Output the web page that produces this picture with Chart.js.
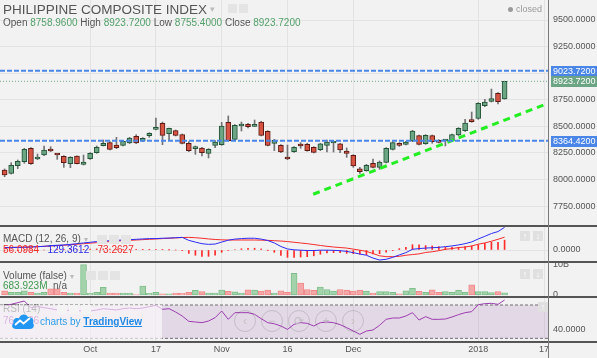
<!DOCTYPE html>
<html><head><meta charset="utf-8">
<script src="https://cdn.jsdelivr.net/npm/chart.js@4.4.1/dist/chart.umd.min.js"></script>
<style>
html,body{margin:0;padding:0;background:#f2f2f2;}
#wrap{position:relative;width:597px;height:358px;overflow:hidden;background:#f2f2f2;font-family:'Liberation Sans',Arial,sans-serif;color:#555;}
canvas{position:absolute;left:0;}
.t{position:absolute;white-space:nowrap;line-height:1;z-index:5;}
.sep{position:absolute;left:0;width:597px;height:2px;background:#555;z-index:6;}
.ic{position:absolute;width:10px;height:9px;background:#e4e4e4;z-index:5;}
.ar{position:absolute;width:10px;height:10px;background:#e0e0e0;color:#fff;font-size:9px;line-height:10px;text-align:center;z-index:5;}
.nav{position:absolute;width:20px;height:20px;border:1px solid rgba(0,0,0,0.13);border-radius:50%;color:#c2c2c2;font-size:12px;line-height:20px;text-align:center;z-index:8;}
</style></head>
<body><div id="wrap">
<canvas id="cMain" width="597" height="225" style="top:0"></canvas>
<canvas id="cMacd" width="597" height="37" style="top:225px"></canvas>
<canvas id="cVol" width="597" height="35" style="top:262px"></canvas>
<canvas id="cRsi" width="597" height="61" style="top:297px"></canvas>

<div class="sep" style="top:225px"></div>
<div class="sep" style="top:261px"></div>
<div class="sep" style="top:296px"></div>
<div class="sep" style="top:341px"></div>
<div style="position:absolute;left:548px;top:0;width:1px;height:358px;background:#7a7a7a;z-index:6"></div>

<div class="t" style="left:3px;top:3.4px;font-size:13.5px;">PHILIPPINE COMPOSITE INDEX</div>
<div class="t" style="left:210px;top:5px;font-size:9px;color:#bbb;">▾</div>
<div class="ic" style="left:228px;top:4px;width:9px;"></div>
<div class="ic" style="left:239px;top:4px;width:9px;"></div>
<div class="t" style="left:3px;top:18.4px;font-size:10px;">Open <span style="color:#53a06b">8758.9600</span> High <span style="color:#53a06b">8923.7200</span> Low <span style="color:#53a06b">8755.4000</span> Close <span style="color:#53a06b">8923.7200</span></div>
<div style="position:absolute;left:508px;top:7px;width:5px;height:5px;border-radius:50%;background:#9a9a9a;z-index:5"></div>
<div class="t" style="left:516px;top:5.3px;font-size:9px;color:#9a9a9a;">closed</div>

<div class="t" style="left:3px;top:234.1px;font-size:10px;">MACD (12, 26, 9) <span style="color:#bbb;font-size:8px">▾</span></div>
<div class="ic" style="left:97px;top:235px;"></div><div class="ic" style="left:109px;top:235px;"></div><div class="ic" style="left:121px;top:235px;"></div>
<div class="t" style="left:3px;top:244.6px;font-size:10px;"><span style="color:#f02b2b">56.0984</span>&nbsp;&nbsp; <span style="color:#2a2ae8">129.3612</span>&nbsp;&nbsp; <span style="color:#f02b2b">73.2627</span></div>
<div class="ar" style="left:520px;top:231px;">↑</div><div class="ar" style="left:533px;top:231px;">↓</div>

<div class="t" style="left:3px;top:270.8px;font-size:10px;">Volume (false) <span style="color:#bbb;font-size:8px">▾</span></div>
<div class="ic" style="left:86px;top:271px;"></div><div class="ic" style="left:98px;top:271px;"></div><div class="ic" style="left:110px;top:271px;"></div>
<div class="t" style="left:3px;top:281.3px;font-size:10px;"><span style="color:#40974f">683.923M</span>&nbsp; n/a</div>
<div class="ar" style="left:520px;top:269px;">↑</div><div class="ar" style="left:533px;top:269px;">↓</div>

<div class="t" style="left:3px;top:304.4px;font-size:10px;">RSI (14)</div>
<div class="ic" style="left:57px;top:305px;"></div><div class="ic" style="left:69px;top:305px;"></div><div class="ic" style="left:81px;top:305px;"></div>
<div class="t" style="left:3px;top:316.1px;font-size:10px;color:#9c3cb0;">76.4136</div>
<div class="ar" style="left:538px;top:302px;">↑</div>

<div style="position:absolute;left:0;top:305px;width:162px;height:34px;background:rgba(255,255,255,0.6);z-index:7"></div>
<svg style="position:absolute;left:11px;top:312px;z-index:8" width="24" height="18" viewBox="0 0 24 18">
<path d="M5 17 C1 17 0 13 2.5 11 C1.5 7 5.5 5 8 6.5 C9 2 15 1 17 5 C21 4.5 23.5 8 22 11 C24 13.5 22.5 17 19 17 Z" fill="#2196f3"/>
<path d="M4 13 L9 8.5 L12.5 11.5 L19 6" stroke="#fff" stroke-width="1.8" fill="none"/>
</svg>
<div class="t" style="left:40px;top:317px;font-size:10px;color:#2f9de8;z-index:8;">charts by <span style="color:#1e88e5;font-weight:bold;text-decoration:underline;">TradingView</span></div>

<div class="nav" style="left:234px;top:310px;">‹</div>
<div class="nav" style="left:261px;top:310px;">−</div>
<div class="nav" style="left:288px;top:310px;">⟳</div>
<div class="nav" style="left:315px;top:310px;">+</div>
<div class="nav" style="left:342px;top:310px;">›</div>
</div>
<script>
// ---- data ----
const open  = [8090,8059,8131,8168,8294,8193,8231,8287,8240,8219,8150,8222,8143,8197,8253,8319,8347,8325,8322,8344,8406,8363,8413,8472,8529,8432,8460,8422,8341,8291,8297,8247,8322,8328,8538,8378,8504,8519,8500,8541,8453,8341,8322,8206,8262,8325,8331,8303,8281,8322,8344,8335,8269,8228,8100,8084,8153,8115,8162,8284,8341,8331,8363,8413,8338,8413,8369,8363,8366,8419,8460,8560,8576,8695,8735,8811,8758.96];
const high  = [8100,8159,8184,8294,8300,8240,8316,8309,8242,8225,8215,8224,8231,8253,8316,8372,8356,8397,8366,8397,8422,8394,8441,8579,8541,8485,8466,8428,8356,8316,8303,8291,8366,8538,8598,8516,8541,8529,8560,8548,8460,8378,8328,8325,8309,8347,8341,8309,8341,8372,8355,8341,8297,8234,8115,8143,8193,8175,8300,8356,8347,8360,8463,8419,8422,8419,8375,8370,8428,8488,8566,8635,8723,8754,8851,8817,8923.72];
const low   = [8027,8052,8103,8153,8143,8187,8225,8262,8190,8115,8112,8147,8137,8190,8247,8316,8278,8291,8316,8338,8338,8356,8397,8466,8328,8372,8410,8335,8262,8237,8222,8203,8300,8322,8360,8372,8457,8485,8497,8410,8316,8272,8253,8187,8256,8294,8266,8250,8272,8259,8259,8253,8209,8115,8059,8078,8109,8096,8156,8278,8312,8325,8356,8325,8331,8341,8344,8316,8360,8413,8453,8538,8566,8685,8729,8710,8755.40];
const close = [8043,8134,8172,8284,8150,8212,8278,8269,8231,8159,8209,8150,8165,8247,8303,8341,8284,8300,8360,8391,8344,8388,8435,8491,8416,8482,8416,8341,8272,8300,8253,8284,8353,8504,8366,8510,8510,8497,8513,8416,8322,8369,8259,8193,8303,8316,8272,8256,8335,8353,8353,8278,8247,8128,8074,8134,8115,8165,8294,8347,8322,8353,8457,8331,8416,8356,8350,8369,8422,8482,8532,8544,8717,8729,8761,8732,8923.72];
const volumeB = [1.4,0.9,0.9,1.4,0.9,0.65,0.9,2.0,2.0,0.9,0.65,0.65,9.9,0.55,0.9,2.5,0.65,0.65,0.65,0.65,0.1,2.9,0.55,0.9,0.35,0.35,0.65,0.55,0.9,1.5,1.1,0.65,0.65,1.6,1.2,1.0,0.65,1.7,1.6,1.3,1.6,0.65,1.4,0.9,7.1,3.9,1.8,1.5,2.6,1.8,1.3,1.8,1.6,1.3,1.6,1.3,0.65,1.1,1.1,0.9,0.35,1.4,2.2,1.2,0.9,1.7,0.9,1.1,0.9,1.5,0.9,3.3,1.1,1.1,0.75,1.1,0.684];
const macd   = [13,13,15,15,17,19,21,25,27,29,32,36,40,44,48,51,53,55,57,59,61,63,65,65,67,68,70,72,55,45,36,32,34,45,56,62,65,67,67,62,54,40,20,6,1,-1,-3,-3,-1,-1,-2,-4,-8,-15,-23,-30,-46,-57,-53,-42,-28,-15,4,8,11,13,15,19,23,29,36,46,63,78,94,105,129.3612];
const signal = [14,15,16,17,18,19,21,23,25,27,30,33,36,39,42,45,48,51,53,55,57,59,61,63,65,67,69,71,72,70,67,63,60,58,57,57,57,57,57,56,55,53,51,48,44,40,36,31,26,21,17,14,11,5,-1,-8,-20,-33,-38,-38,-36,-30,-26,-22,-14,-10,-4,4,8,14,17,23,33,40,50,61,73.2627];
const hist   = [-1,-2,-1,-2,-1,0,0,2,2,2,2,3,4,5,6,6,5,4,4,4,4,4,4,2,2,1,0,-2,-19,-30,-36,-36,-30,-13,-3,3,7,10,10,6,-1,-13,-31,-42,-43,-40,-38,-33,-24,-17,-15,-15,-19,-21,-24,-27,-22,-21,-13,-4,8,15,30,30,25,23,19,15,15,15,19,23,30,38,44,44,56.0984];
const rsi    = [69.6,70.8,72.8,74.8,66.8,68,66.8,65.6,64,62.8,64,63.2,62.8,62.8,64,65.6,64.8,64,65.6,66.4,65.6,66.4,68,69.6,64.8,65.6,61.6,56.8,50.4,49.6,48.8,50.8,54.8,62.8,52.8,60.8,60.8,60.8,58.8,53.6,48.8,47.5,44.8,40.8,46.8,48.8,48,44.8,48.8,49.6,48.8,46.4,42.8,38.8,34.8,38.8,40,45.6,52.8,54.4,54.4,56.8,60.8,52,56,52.8,52.8,53.2,55.6,58.4,60.8,62,70.4,71.6,72,70.8,76];
const levels = [9023.72, 8364.42];
const lastPrice = 8923.72;
const trendX = [46.9, 81.9];
const trendY = [7862, 8700];
const rsiBands = [70, 30];
const tickIdx = [13,23,33,43,53,72,82];
const tickLabels = ['Oct','17','Nov','16','Dec','2018','17'];
const priceTicks = [7750,8000,8250,8500,8750,9000,9250,9500];

// ---- styling ----
const FF = "'Liberation Sans', Arial, sans-serif";
Chart.defaults.font.family = FF;
const GRID = '#e3e3e3';
const UP='#6ba583', DN='#d75442', UPB='#225437', DNB='#5b1a13';
const xMin=-0.7, xMax=82.6;
const idx = open.map((_,i)=>i);
const isUp = i => close[i] >= open[i];

function xScale(show){
  return {type:'linear',min:xMin,max:xMax,offset:false,
    afterBuildTicks:s=>{s.ticks=tickIdx.map(v=>({value:v}));},
    ticks:{display:show,autoSkip:false,maxRotation:0,minRotation:0,padding:2,color:'#555',font:{size:9},callback:(v,i)=>tickLabels[i]},
    grid:{color:GRID,drawTicks:false,offset:false},border:{display:false},
    afterFit:s=>{s.height=show?16:0;s.paddingLeft=0;s.paddingRight=0;}};
}
function yScale(min,max,ticks,fmt,gridOn){
  return {position:'right',min:min,max:max,
    afterBuildTicks:s=>{s.ticks=ticks.map(v=>({value:v}));},
    ticks:{color:'#555',font:{size:9},padding:5,callback:fmt},
    grid:{display:gridOn,color:GRID,drawTicks:false},border:{display:false},
    afterFit:s=>{s.width=49;s.paddingTop=0;s.paddingBottom=0;}};
}
const base = {responsive:false,animation:false,devicePixelRatio:1,layout:{padding:0},
  plugins:{legend:{display:false},tooltip:{enabled:false}}};
const hline = (y,color,w,dash,order)=>({type:'line',data:[{x:xMin,y:y},{x:xMax,y:y}],borderColor:color,borderWidth:w,borderDash:dash,pointRadius:0,order:order});

const tags=[{v:levels[0],c:'#4a86e8'},{v:lastPrice,c:'#6ba583'},{v:levels[1],c:'#4a86e8'}];
const tagPlugin={id:'tags',afterDraw(c){
  const ctx=c.ctx,y=c.scales.y,r=c.chartArea.right;
  ctx.save();
  tags.forEach(t=>{const py=y.getPixelForValue(t.v);
    ctx.fillStyle=t.c;ctx.fillRect(r+3,Math.round(py)-5,46,11);
    ctx.fillStyle='#fff';ctx.font='9px '+FF;ctx.textBaseline='middle';ctx.textAlign='left';
    ctx.fillText(t.v.toFixed(4),r+5,Math.round(py)+0.5);});
  ctx.restore();}};

new Chart(document.getElementById('cMain'),{type:'bar',
  data:{datasets:[
    hline(levels[0],'#4a86e8',2,[5,2],0),
    hline(levels[1],'#4a86e8',2,[5,2],0),
    hline(lastPrice,'#6ba583',1,[1,2],0),
    {type:'line',data:trendX.map((x,i)=>({x:x,y:trendY[i]})),borderColor:'#22ee22',borderWidth:3,borderDash:[7,5],pointRadius:0,order:0},
    {type:'bar',data:idx.map(i=>({x:i,y:[Math.min(open[i],close[i]),Math.max(open[i],close[i])]})),
      backgroundColor:idx.map(i=>isUp(i)?UP:DN),borderColor:idx.map(i=>isUp(i)?UPB:DNB),borderWidth:1,borderSkipped:false,
      barThickness:5,minBarLength:2,grouped:false,order:1},
    {type:'bar',data:idx.map(i=>({x:i,y:[low[i],high[i]]})),backgroundColor:'#737375',barThickness:1,grouped:false,order:2}
  ]},
  options:Object.assign({},base,{scales:{x:xScale(false),y:yScale(7573,9688,priceTicks,v=>v.toFixed(4),true)}}),
  plugins:[tagPlugin]});

new Chart(document.getElementById('cMacd'),{type:'bar',
  data:{datasets:[
    {type:'line',data:idx.map(i=>({x:i,y:macd[i]})),borderColor:'#2b2bf5',borderWidth:1,pointRadius:0,order:0},
    {type:'line',data:idx.map(i=>({x:i,y:signal[i]})),borderColor:'#f52b2b',borderWidth:1,pointRadius:0,order:1},
    {type:'bar',data:idx.map(i=>({x:i,y:hist[i]})),backgroundColor:'#ff2a2a',barThickness:1,grouped:false,order:2}
  ]},
  options:Object.assign({},base,{scales:{x:xScale(false),y:yScale(-68.4,142.5,[0],v=>v.toFixed(4),true)}})});

new Chart(document.getElementById('cVol'),{type:'bar',
  data:{datasets:[
    {type:'bar',data:idx.map(i=>({x:i,y:volumeB[i]})),backgroundColor:idx.map(i=>isUp(i)?'#a3d3ab':'#f5a7a7'),
      borderColor:idx.map(i=>isUp(i)?'#7fbf8c':'#f08a8a'),borderWidth:1,borderSkipped:false,barThickness:6,grouped:false}
  ]},
  options:Object.assign({},base,{scales:{x:xScale(false),y:yScale(-0.65,10.75,[0,10],v=>v===0?'0':v+'B',false)}})});

new Chart(document.getElementById('cRsi'),{type:'bar',
  data:{datasets:[
    {type:'line',data:[{x:xMin,y:rsiBands[0]},{x:xMax,y:rsiBands[0]}],borderColor:'#6f6f6f',borderWidth:1,borderDash:[3,2],pointRadius:0,fill:'+1',backgroundColor:'rgba(150,80,170,0.16)',order:1},
    {type:'line',data:[{x:xMin,y:rsiBands[1]},{x:xMax,y:rsiBands[1]}],borderColor:'#6f6f6f',borderWidth:1,borderDash:[3,2],pointRadius:0,fill:false,order:1},
    {type:'line',data:idx.map(i=>({x:i,y:rsi[i]})),borderColor:'#9c3cb0',borderWidth:1,pointRadius:0,fill:false,order:0}
  ]},
  options:Object.assign({},base,{scales:{x:xScale(true),y:yScale(25.6,79.6,[40],v=>v.toFixed(4),false)}})});
</script>
</body></html>
